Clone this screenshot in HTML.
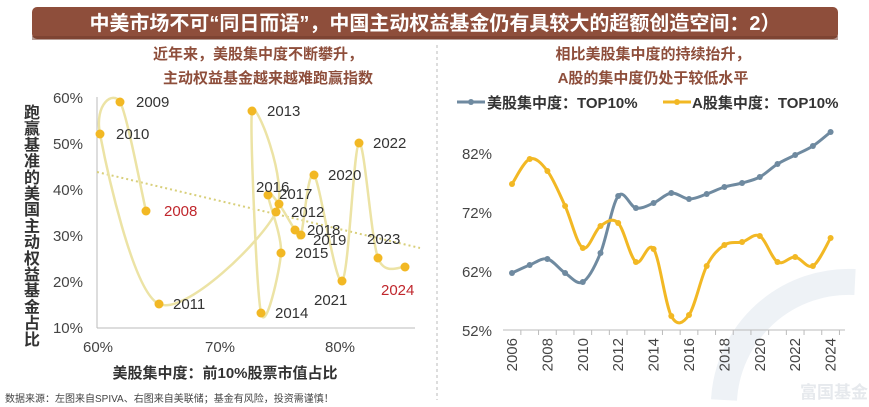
<!DOCTYPE html>
<html><head><meta charset="utf-8">
<style>
html,body{margin:0;padding:0;background:#fff;}
body{width:869px;height:407px;overflow:hidden;font-family:"Liberation Sans","Noto Sans CJK SC",sans-serif;}
svg{display:block;}
</style></head><body>
<svg id="s" width="869" height="407" xmlns="http://www.w3.org/2000/svg" font-family="Liberation Sans, Noto Sans CJK SC, sans-serif">
<!-- watermark -->
<path d="M724,400 A125,125 0 0 1 855,282" fill="none" stroke="#eef2f6" stroke-width="26"/>
<text x="800" y="398" font-size="17" fill="#e6e9ed" font-weight="bold">富国基金</text>
<!-- title bar -->
<rect x="32" y="7" width="806" height="32" rx="5" fill="#8e4e3b"/>
<rect x="32" y="36" width="806" height="4" fill="#6e3a2b" opacity="0.5"/>
<text x="435" y="30" text-anchor="middle" font-size="20" font-weight="bold" fill="#fff">中美市场不可“同日而语”，中国主动权益基金仍有具较大的超额创造空间：2）</text>
<line x1="437" y1="45" x2="437" y2="400" stroke="#bbb" stroke-dasharray="3,3"/>
<!-- subtitles -->
<g font-size="15" font-weight="bold" fill="#8e4e3b" text-anchor="middle">
<text x="258" y="59">近年来，美股集中度不断攀升，</text>
<text x="268" y="83">主动权益基金越来越难跑赢指数</text>
<text x="653" y="59">相比美股集中度的持续抬升，</text>
<text x="653" y="83">A股的集中度仍处于较低水平</text>
</g>
<!-- left axes -->
<line x1="97" y1="97" x2="97" y2="328" stroke="#bbb"/>
<line x1="97" y1="328" x2="415" y2="328" stroke="#bbb"/>
<g font-size="15" fill="#444" text-anchor="end">
<text x="83" y="103">60%</text><text x="83" y="149">50%</text><text x="83" y="195">40%</text>
<text x="83" y="241">30%</text><text x="83" y="287">20%</text><text x="83" y="333">10%</text>
</g>
<g font-size="15" fill="#444" text-anchor="middle">
<text x="98" y="352">60%</text><text x="220" y="352">70%</text><text x="340" y="352">80%</text>
</g>
<g id="ytitle" font-size="16" font-weight="bold" fill="#333" text-anchor="middle"></g>
<text x="225" y="378" text-anchor="middle" font-size="15" font-weight="bold" fill="#333">美股集中度：前10%股票市值占比</text>
<text x="5" y="402" font-size="10" fill="#444">数据来源：左图来自SPIVA、右图来自美联储；基金有风险，投资需谨慎！</text>
<line x1="97" y1="172" x2="420" y2="248" stroke="#d8cf7a" stroke-width="2" stroke-dasharray="2,3"/>
<g id="left"></g>
<!-- right axes -->
<line x1="503" y1="330" x2="845" y2="330" stroke="#bbb"/>
<g font-size="15" fill="#444" text-anchor="end">
<text x="492" y="159">82%</text><text x="492" y="218">72%</text><text x="492" y="277">62%</text><text x="492" y="336">52%</text>
</g>
<g id="right"></g>
<!-- legend -->
<line x1="457" y1="102" x2="485" y2="102" stroke="#6f8aa0" stroke-width="3"/><circle cx="471" cy="102" r="3" fill="#6f8aa0"/>
<text x="487" y="108" font-size="15" font-weight="bold" fill="#333">美股集中度：TOP10%</text>
<line x1="663" y1="102" x2="691" y2="102" stroke="#f2b824" stroke-width="3"/><circle cx="677" cy="102" r="3" fill="#f2b824"/>
<text x="692" y="108" font-size="15" font-weight="bold" fill="#333">A股集中度：TOP10%</text>
</svg>
<script>
var NS="http://www.w3.org/2000/svg";
function cr(p,t){var d="M"+p[0][0]+","+p[0][1];for(var i=0;i<p.length-1;i++){var p0=p[i-1]||p[i],p1=p[i],p2=p[i+1],p3=p[i+2]||p2;var k=t/3;
var c1=[p1[0]+(p2[0]-p0[0])*k,p1[1]+(p2[1]-p0[1])*k];var c2=[p2[0]-(p3[0]-p1[0])*k,p2[1]-(p3[1]-p1[1])*k];
d+=" C"+c1[0].toFixed(1)+","+c1[1].toFixed(1)+" "+c2[0].toFixed(1)+","+c2[1].toFixed(1)+" "+p2[0]+","+p2[1];}return d;}
function el(n,a,par){var e=document.createElementNS(NS,n);for(var k in a)e.setAttribute(k,a[k]);par.appendChild(e);return e;}
var YT=document.getElementById("ytitle");var chars="跑赢基准的美国主动权益基金占比";
for(var i=0;i<chars.length;i++){var t=el("text",{x:32,y:118+i*16.2},YT);t.textContent=chars[i];}
var L=document.getElementById("left");
var pts=[[146,211,"2008",18,5,1],[120,102,"2009",16,5],[100,134,"2010",16,5],[159,304,"2011",14,5],[276,212,"2012",15,5],[252,111,"2013",15,5],[261,313,"2014",14,5],[281,253,"2015",14,5],[268,195,"2016",-12,-3],[279,204,"2017",0,-5],[295,230,"2018",12,5],[301,235,"2019",12,10],[314,175,"2020",14,5],[342,281,"2021",-28,24],[359,143,"2022",14,5],[378,258,"2023",-11,-14],[405,267,"2024",-24,28,1]];
var order=pts.map(function(p){return [p[0],p[1]];});
el("path",{d:cr(order,0.45),fill:"none",stroke:"#ece3a5","stroke-width":2.5},L);
pts.forEach(function(p){el("circle",{cx:p[0],cy:p[1],r:4.5,fill:"#f2b824"},L);var t=el("text",{x:p[0]+p[3],y:p[1]+p[4],"font-size":15,fill:p[5]?"#c0272d":"#333"},L);t.textContent=p[2];});
var R=document.getElementById("right");
var us=[273,265,259,273,282,253,196,208,203,193,199,194,187,183,177,164,155,146,132];
var a=[184,159,171,206,248,226,223,262,249,316,315,266,245,242,236,262,257,266,238];
function xs(i){return 512+i*17.7;}
[[us,"#6f8aa0"],[a,"#f2b824"]].forEach(function(s){var p=s[0].map(function(y,i){return [+xs(i).toFixed(1),y];});
el("path",{d:cr(p,0.5),fill:"none",stroke:s[1],"stroke-width":3},R);p.forEach(function(q){el("circle",{cx:q[0],cy:q[1],r:3,fill:s[1]},R);});});
for(var i=0;i<19;i++){var x=xs(i);el("line",{x1:x+8.85,y1:330,x2:x+8.85,y2:335,stroke:"#bbb"},R);
if(i%2==0){var t=el("text",{x:0,y:0,"font-size":15,fill:"#444","text-anchor":"end",transform:"translate("+(x+5)+",338) rotate(-90)"},R);t.textContent=2006+i;}}
</script>
</body></html>
